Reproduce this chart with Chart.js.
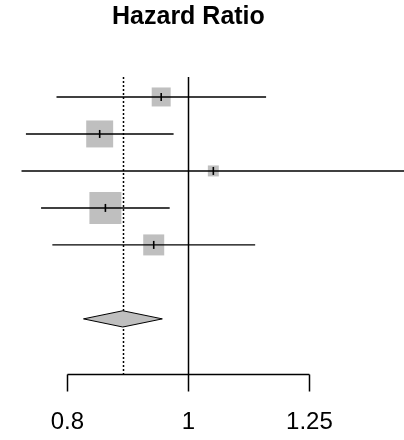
<!DOCTYPE html>
<html>
<head>
<meta charset="utf-8">
<script src="https://cdn.jsdelivr.net/npm/chart.js@4/dist/chart.umd.min.js"></script>
<style>
  html, body { margin: 0; padding: 0; background: #fff; }
  #wrap { width: 404px; height: 440px; position: relative; }
</style>
</head>
<body>
<div id="wrap"><canvas id="forest"></canvas></div>
<script>
// study rows, top to bottom (pooled estimate sits on row 7)
const rows = [1, 2, 3, 4, 5]
const hazard = [0.951, 0.849, 1.047, 0.858, 0.938]
const lower = [0.784, 0.741, 0.735, 0.762, 0.778]
const upper = [1.154, 0.973, 1.60, 0.966, 1.131]
const weights = [13.5, 27.2, 4.5, 38.3, 16.5]

const pooledRow = 7
const pooledHazard = 0.886
const pooledLower = 0.824
const pooledUpper = 0.953

const tickValues = [0.8, 1, 1.25]
const tickLabels = ['0.8', '1', '1.25']
const titleText = 'Hazard Ratio'

const boxGrey = '#bfbfbf'

// R-style forest plot extras: reference lines, short axis, title
const forestExtras = {
  id: 'forestExtras',
  beforeDatasetsDraw(chart) {
    const { ctx, chartArea, scales: { x } } = chart
    ctx.save()
    ctx.strokeStyle = '#000'
    // line of no effect
    ctx.lineWidth = 1.5
    const x1 = Math.round(x.getPixelForValue(1)) + 0.5
    ctx.beginPath()
    ctx.moveTo(x1, chartArea.top)
    ctx.lineTo(x1, chartArea.bottom)
    ctx.stroke()
    // pooled estimate, dotted
    const xp = Math.round(x.getPixelForValue(pooledHazard)) + 0.5
    ctx.setLineDash([2, 2])
    ctx.beginPath()
    ctx.moveTo(xp, chartArea.top)
    ctx.lineTo(xp, chartArea.bottom)
    ctx.stroke()
    ctx.restore()
  },
  afterDraw(chart) {
    const { ctx, chartArea, scales: { x } } = chart
    const yAxis = Math.round(chartArea.bottom) + 0.5
    ctx.save()
    ctx.strokeStyle = '#000'
    ctx.lineWidth = 1.5
    ctx.beginPath()
    ctx.moveTo(x.getPixelForValue(tickValues[0]), yAxis)
    ctx.lineTo(x.getPixelForValue(tickValues[tickValues.length - 1]), yAxis)
    tickValues.forEach(v => {
      const px = Math.round(x.getPixelForValue(v)) + 0.5
      ctx.moveTo(px, yAxis)
      ctx.lineTo(px, yAxis + 17)
    })
    ctx.stroke()

    ctx.fillStyle = '#000'
    ctx.font = '24px "Liberation Sans", Arial, sans-serif'
    ctx.textAlign = 'center'
    ctx.textBaseline = 'middle'
    tickValues.forEach((v, i) => {
      ctx.fillText(tickLabels[i], x.getPixelForValue(v), yAxis + 48)
    })

    ctx.font = 'bold 25px "Liberation Sans", Arial, sans-serif'
    ctx.fillText(titleText, x.getPixelForValue(1), 17)
    ctx.restore()
  }
}

const boxData = rows.map((r, i) => ({ x: hazard[i], y: r }))
const boxSizes = weights.map(w => Math.sqrt(w / 100) * 51.7 / Math.SQRT2)

const ciSets = rows.map((r, i) => ({
  type: 'line',
  data: [{ x: lower[i], y: r }, { x: upper[i], y: r }],
  borderColor: '#000',
  borderWidth: 1.4,
  pointRadius: 0,
  fill: false,
  order: 2
}))

const halfH = 0.22
const diamond = {
  type: 'line',
  data: [
    { x: pooledLower, y: pooledRow },
    { x: pooledHazard, y: pooledRow - halfH },
    { x: pooledUpper, y: pooledRow },
    { x: pooledHazard, y: pooledRow + halfH },
    { x: pooledLower, y: pooledRow }
  ],
  borderColor: '#000',
  borderWidth: 1,
  backgroundColor: boxGrey,
  fill: 'shape',
  tension: 0,
  pointRadius: 0,
  order: 2
}

new Chart(document.getElementById('forest').getContext('2d'), {
  type: 'scatter',
  data: {
    datasets: [
      {
        data: boxData,
        pointStyle: 'rect',
        pointRadius: boxSizes,
        backgroundColor: boxGrey,
        borderWidth: 0,
        order: 3
      },
      ...ciSets,
      diamond,
      {
        data: boxData,
        pointStyle: 'line',
        rotation: 90,
        pointRadius: 4,
        borderColor: '#000',
        borderWidth: 1.6,
        order: 1
      }
    ]
  },
  options: {
    responsive: true,
    maintainAspectRatio: false,
    animation: false,
    layout: { autoPadding: false, padding: { top: 77, bottom: 66, left: 0, right: 0 } },
    plugins: {
      legend: { display: false },
      tooltip: { enabled: false },
      title: { display: false }
    },
    scales: {
      x: { type: 'logarithmic', min: 0.7064, max: 1.4883, display: false },
      y: { type: 'linear', min: 0.46, max: 8.49, reverse: true, display: false }
    }
  },
  plugins: [forestExtras]
})
</script>
</body>
</html>
